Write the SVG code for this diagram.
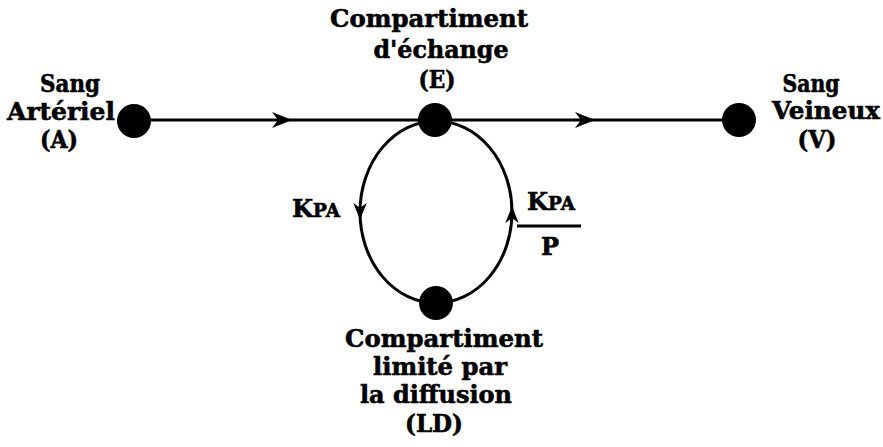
<svg xmlns="http://www.w3.org/2000/svg" width="883" height="447" viewBox="0 0 883 447">
<style>
.t{font-family:"DejaVu Serif",serif;font-weight:bold;font-size:24px;fill:#000;stroke:#000;stroke-width:0.6;text-anchor:middle}
.s{font-size:19px}
.k{font-size:25px}
.ln{fill:none;stroke:#000;stroke-width:3}
.arr{fill:#000}
.dot{fill:#000}
</style>
<defs>
<path id="ah" d="M8,0 L-12,-8 L-6,0 L-12,8 Z"/>
</defs>
<rect width="883" height="447" fill="#fff"/>
<g id="connectors">
<line class="ln" x1="134" y1="120" x2="739" y2="120"/>
<ellipse class="ln" cx="436" cy="212" rx="76" ry="91"/>
<use href="#ah" class="arr" transform="translate(284,120)"/>
<use href="#ah" class="arr" transform="translate(587,120)"/>
<use href="#ah" class="arr" transform="translate(360,213) rotate(90) scale(0.85)"/>
<use href="#ah" class="arr" transform="translate(512,213) rotate(-90) scale(0.85)"/>
<line x1="517" y1="226" x2="581" y2="226" stroke="#000" stroke-width="3"/>
</g>
<g id="A">
<circle class="dot" cx="134" cy="121" r="17"/>
<text class="t" x="70" y="92" textLength="60" lengthAdjust="spacingAndGlyphs">Sang</text>
<text class="t" x="61" y="120" textLength="108" lengthAdjust="spacingAndGlyphs">Artériel</text>
<text class="t" x="59" y="148" textLength="38" lengthAdjust="spacingAndGlyphs">(A)</text>
</g>
<g id="E">
<circle class="dot" cx="435" cy="120" r="17"/>
<text class="t" x="429" y="27" textLength="198" lengthAdjust="spacingAndGlyphs">Compartiment</text>
<text class="t" x="441" y="58" textLength="135" lengthAdjust="spacingAndGlyphs">d'échange</text>
<text class="t" x="437" y="88" textLength="37" lengthAdjust="spacingAndGlyphs">(E)</text>
</g>
<g id="V">
<circle class="dot" cx="739" cy="120" r="17"/>
<text class="t" x="811" y="92" textLength="57" lengthAdjust="spacingAndGlyphs">Sang</text>
<text class="t" x="826" y="119" textLength="108" lengthAdjust="spacingAndGlyphs">Veineux</text>
<text class="t" x="817" y="148" textLength="39" lengthAdjust="spacingAndGlyphs">(V)</text>
</g>
<g id="LD">
<circle class="dot" cx="436" cy="303" r="17"/>
<text class="t" x="444" y="347" textLength="198" lengthAdjust="spacingAndGlyphs">Compartiment</text>
<text class="t" x="440" y="375" textLength="134" lengthAdjust="spacingAndGlyphs">limité par</text>
<text class="t" x="436" y="403" textLength="152" lengthAdjust="spacingAndGlyphs">la diffusion</text>
<text class="t" x="434" y="432" textLength="58" lengthAdjust="spacingAndGlyphs">(LD)</text>
</g>
<g id="labels">
<text class="t k" x="316" y="217" textLength="48" lengthAdjust="spacingAndGlyphs">K<tspan class="s">PA</tspan></text>
<text class="t k" x="551" y="210" textLength="48" lengthAdjust="spacingAndGlyphs">K<tspan class="s">PA</tspan></text>
<text class="t" x="550" y="255">P</text>
</g>
</svg>
